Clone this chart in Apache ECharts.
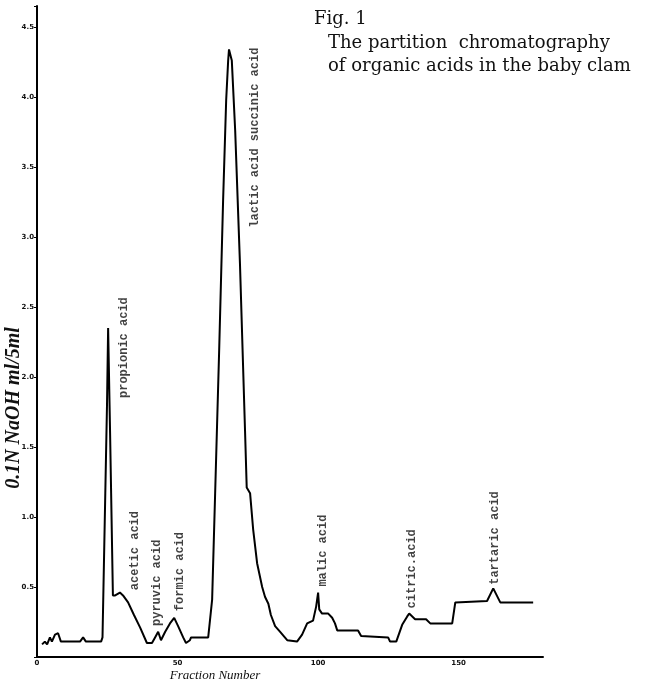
<!DOCTYPE html>
<html>
<head>
<meta charset="utf-8">
<script src="https://cdn.jsdelivr.net/npm/echarts@6/dist/echarts.min.js"></script>
<style>
html,body{margin:0;padding:0;background:#fff;}
#chart{width:647px;height:687px;}
</style>
</head>
<body>
<div id="chart"></div>
<script>
// Fraction number (x) and titration value, 0.1N NaOH ml/5ml (y)
var fractions = [1.8, 2.8, 3.6, 4.6, 5.3, 6.4, 7.5, 8.5, 15.3, 16.4, 17.4, 22.8, 23.3, 24.9, 25.3, 26.0, 27.0, 27.8, 29.5, 30.6, 32.4, 34.5, 36.7, 39.1, 40.9, 42.0, 43.1, 44.1, 45.6, 47.3, 48.8, 50.2, 52.0, 53.0, 54.4, 54.8, 60.9, 62.3, 63.3, 64.8, 66.2, 67.3, 68.0, 68.3, 69.3, 70.5, 72.2, 74.0, 74.6, 75.8, 76.9, 78.3, 80.1, 81.1, 82.3, 83.2, 84.7, 86.5, 89.0, 92.5, 94.3, 96.1, 98.2, 99.3, 100.0, 100.4, 101.4, 103.6, 105.0, 106.0, 106.8, 114.2, 115.3, 124.9, 125.6, 127.8, 129.9, 131.7, 132.4, 134.5, 138.4, 139.9, 147.7, 148.8, 149.5, 160.1, 162.3, 164.8, 176.5];
var naoh = [0.09, 0.11, 0.09, 0.14, 0.11, 0.16, 0.17, 0.11, 0.11, 0.14, 0.11, 0.11, 0.14, 1.80, 2.35, 1.60, 0.44, 0.44, 0.46, 0.44, 0.39, 0.30, 0.21, 0.10, 0.10, 0.14, 0.18, 0.12, 0.18, 0.24, 0.28, 0.22, 0.14, 0.10, 0.12, 0.14, 0.14, 0.41, 1.12, 2.19, 3.26, 3.98, 4.26, 4.34, 4.26, 3.76, 2.81, 1.62, 1.21, 1.17, 0.91, 0.67, 0.50, 0.43, 0.38, 0.30, 0.22, 0.18, 0.12, 0.11, 0.16, 0.24, 0.26, 0.36, 0.46, 0.34, 0.31, 0.31, 0.28, 0.24, 0.19, 0.19, 0.15, 0.14, 0.11, 0.11, 0.23, 0.29, 0.31, 0.27, 0.27, 0.24, 0.24, 0.39, 0.40, 0.40, 0.49, 0.39, 0.39];

var xTicks = [0, 50, 100, 150];
var yTicks = [0.5, 1.0, 1.5, 2.0, 2.5, 3.0, 3.5, 4.0, 4.5];

var peakNames = ['propionic acid', 'acetic acid', 'pyruvic acid', 'formic acid', 'lactic acid succinic acid', 'malic acid', 'citric.acid', 'tartaric acid'];
var peakFractions = [31.0, 34.9, 42.7, 50.9, 77.6, 101.8, 133.5, 163.0];
var peakLabelLevels = [2.21, 0.76, 0.53, 0.61, 3.71, 0.76, 0.63, 0.85];

var titleLines = ['Fig. 1', 'The partition  chromatography', 'of organic acids in the baby clam'];
var yTitle = '0.1N NaOH ml/5ml';
var xTitle = 'Fraction Number';

var curve = fractions.map(function (f, i) { return [f, naoh[i]]; });
var labelPts = peakNames.map(function (n, i) { return { value: [peakFractions[i], peakLabelLevels[i]], name: n }; });

var chart = echarts.init(document.getElementById('chart'), null, { renderer: 'canvas' });
chart.setOption({
  backgroundColor: '#ffffff',
  animation: false,
  grid: { left: 37, right: 104, top: 6, bottom: 30, containLabel: false },
  xAxis: {
    type: 'value', min: 0, max: 180, interval: 50,
    axisLine: { show: true, lineStyle: { color: '#000', width: 2 } },
    axisTick: { show: false },
    splitLine: { show: false },
    axisLabel: {
      margin: 3, fontSize: 7, fontWeight: 'bold', color: '#111', fontFamily: 'DejaVu Sans',
      formatter: function (v) { return xTicks.indexOf(v) >= 0 ? String(v) : ''; }
    }
  },
  yAxis: {
    type: 'value', min: 0, max: 4.65, interval: 0.5,
    axisLine: { show: true, lineStyle: { color: '#000', width: 2 } },
    axisTick: { show: true, length: 3, inside: false, lineStyle: { color: '#000', width: 1 } },
    splitLine: { show: false },
    axisLabel: {
      margin: 3, fontSize: 7, fontWeight: 'bold', color: '#111', fontFamily: 'DejaVu Sans',
      formatter: function (v) {
        for (var i = 0; i < yTicks.length; i++) { if (Math.abs(yTicks[i] - v) < 1e-6) return yTicks[i].toFixed(1); }
        return '';
      }
    }
  },
  series: [
    {
      type: 'line', data: curve, symbol: 'none', smooth: false,
      lineStyle: { color: '#000', width: 2 }
    },
    {
      type: 'scatter', data: labelPts, symbolSize: 0, silent: true,
      label: {
        show: true, position: 'inside', rotate: 90,
        formatter: function (p) { return p.name; },
        fontFamily: 'Liberation Mono', fontWeight: 'bold', fontSize: 12, color: '#111'
      }
    }
  ],
  graphic: [
    { type: 'text', left: 314, top: 10, style: { text: titleLines[0], font: '18px "DejaVu Serif"', fill: '#111' } },
    { type: 'text', left: 328, top: 34, style: { text: titleLines[1], font: '18px "DejaVu Serif"', fill: '#111' } },
    { type: 'text', left: 328, top: 57, style: { text: titleLines[2], font: '18px "DejaVu Serif"', fill: '#111' } },
    { type: 'text', x: 14, y: 408, rotation: Math.PI / 2, style: { text: yTitle, font: 'italic bold 20px "Liberation Serif"', fill: '#111', align: 'center', verticalAlign: 'middle' } },
    { type: 'text', x: 215, y: 676, style: { text: xTitle, font: 'italic 13px "Liberation Serif"', fill: '#111', align: 'center', verticalAlign: 'middle' } }
  ]
});
</script>
</body>
</html>
